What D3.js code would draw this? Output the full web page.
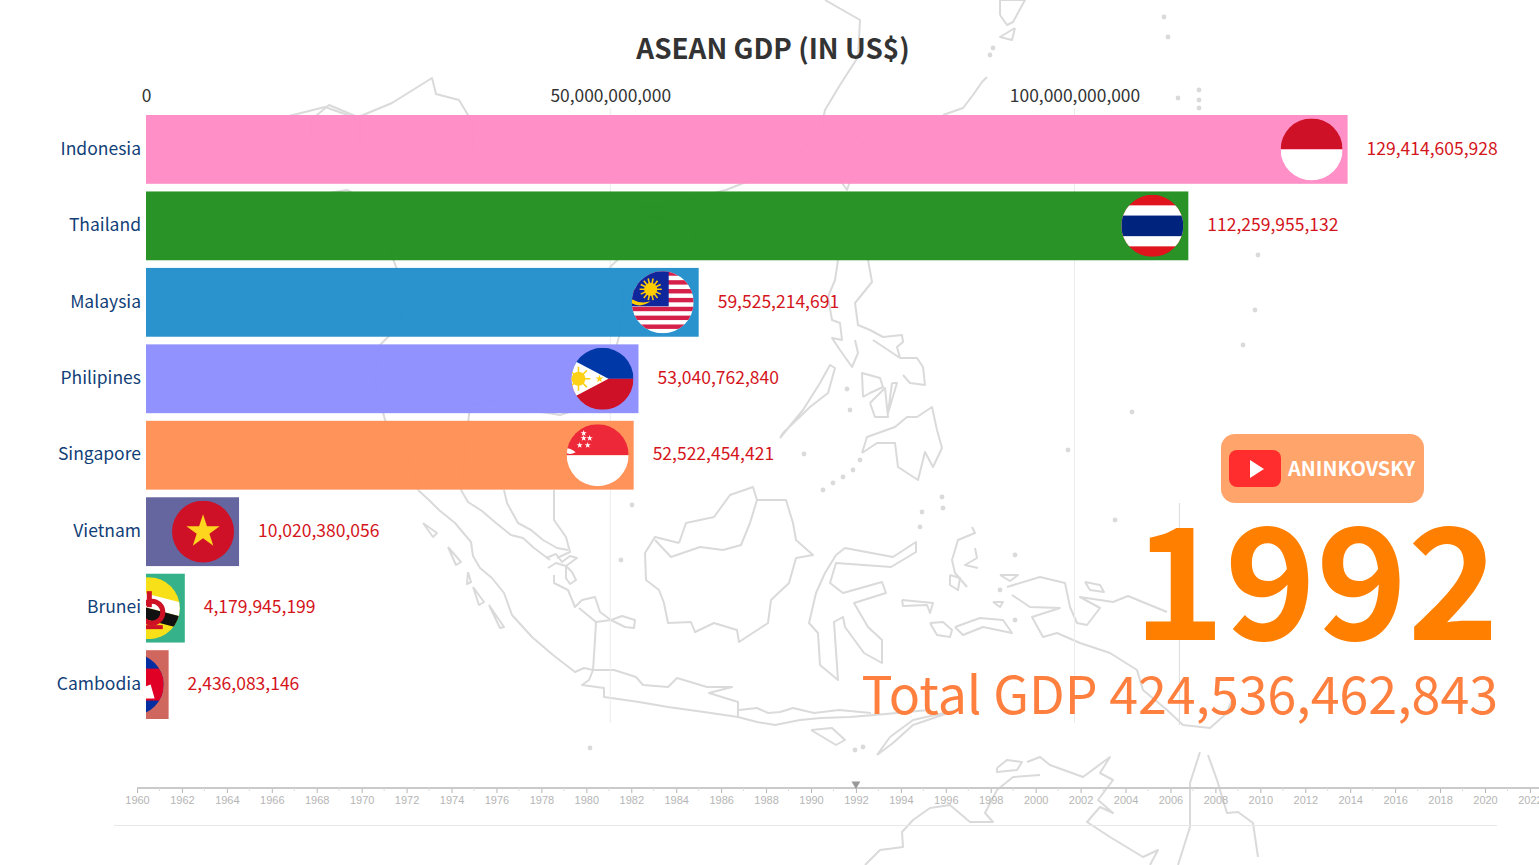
<!DOCTYPE html>
<html>
<head>
<meta charset="utf-8">
<title>ASEAN GDP</title>
<script src="https://cdn.jsdelivr.net/npm/d3@7"></script>
<style>
  html, body { margin: 0; padding: 0; background: #fff; overflow: hidden; }
  text { font-family: "Noto Sans CJK SC", "Noto Sans", sans-serif; }
  .years text { font-family: "Liberation Sans Narrow", "Liberation Sans", sans-serif; }
</style>
</head>
<body>
<svg id="chart" width="1539" height="865"></svg>
<script>
// ------------ data ------------
var countries = ['Indonesia', 'Thailand', 'Malaysia', 'Philipines', 'Singapore', 'Vietnam', 'Brunei', 'Cambodia'];
var gdp = [129414605928, 112259955132, 59525214691, 53040762840, 52522454421, 10020380056, 4179945199, 2436083146];
var barColors = ['#ff8cc5', '#228f21', '#238fcc', '#8e8eff', '#ff9054', '#60609c', '#30b087', '#ce625a'];
var gdpTicks = [0, 50e9, 100e9];
var fadingTicks = [111.3e9]; // gridline still fading out in this frame
var yearTicks = d3.range(1960, 2023, 2);
var minorYears = d3.range(1961, 2022, 2);
var currentYear = 1992;
var totalGdp = 424536462843;

// traced outline of the background map, in picture pixels
var mapOutlines = [
  [[289,116],[325,107],[356,118],[392,103],[432,78],[436,94],[459,100],[474,125],[472,152]],
  [[311,120],[329,105],[360,118],[360,143],[325,145],[311,134],[311,120]],
  [[289,200],[347,190],[360,197],[383,233],[400,277],[409,300],[395,330],[380,345],[375,380],[385,420],[410,460],[418,490]],
  [[825,0],[860,20],[858,57],[840,85],[825,110],[820,133],[784,167],[726,190],[659,207],[637,207],[650,217],[664,217],[639,240],[610,267],[624,293],[620,333],[610,370],[590,405],[560,415],[530,410],[500,400],[470,405],[461,490]],
  [[856,135],[863,143],[847,190],[831,167],[856,135]],
  [[677,227],[690,222],[695,240],[680,250],[668,240],[677,227]],
  [[418,490],[429,500],[439,510],[455,523],[471,542],[473,556],[480,568],[492,578],[504,593],[512,615],[532,637],[553,655],[575,672],[584,668],[593,670]],
  [[461,490],[468,502],[482,511],[496,523],[511,535],[523,538],[534,548],[550,560]],
  [[504,490],[507,503],[518,523],[531,530],[543,540],[557,548],[568,550]],
  [[554,490],[554,520],[566,537],[570,552],[557,558]],
  [[546,558],[556,554],[562,562],[570,556],[577,558],[566,566],[556,563],[548,568]],
  [[566,566],[572,572],[576,580],[570,584],[566,578],[566,566]],
  [[554,575],[554,583],[568,590],[575,607],[582,600],[595,597],[600,612],[611,620],[596,622],[579,608]],
  [[611,620],[622,616],[635,620],[634,628],[625,627],[611,620]],
  [[596,622],[595,640],[593,670]],
  [[593,670],[614,670],[636,677],[643,685],[668,687],[677,678],[707,687],[732,687],[709,693],[738,702],[738,717],[704,712],[668,707],[639,702],[604,697],[604,688],[582,685],[589,680],[593,670]],
  [[738,717],[757,722],[775,725],[800,720],[821,718],[850,717],[875,715],[929,710]],
  [[739,710],[757,708],[768,713],[780,712],[793,708],[814,713],[839,710],[871,713]],
  [[877,755],[890,737],[913,720],[957,710],[913,725],[893,743],[877,755]],
  [[811,730],[832,728],[845,740],[836,745],[811,730]],
  [[679,543],[686,523],[714,517],[730,495],[753,487],[757,500],[786,500],[793,523],[796,540],[813,555],[796,558],[789,583],[771,600],[768,623],[739,642],[737,630],[714,623],[695,632],[691,622],[668,623],[664,603],[659,590],[646,580],[645,553],[655,537],[679,543]],
  [[655,540],[671,557],[700,547],[723,550],[741,545],[750,523],[757,500]],
  [[836,555],[845,548],[893,557],[916,542],[916,552],[891,567],[836,563],[830,583],[843,593],[882,582],[886,593],[854,603],[868,627],[882,640],[882,663],[864,653],[845,627],[843,617],[834,622],[838,680],[820,665],[818,633],[809,623],[816,593],[825,573],[836,555]],
  [[423,523],[437,533],[433,537],[423,523]],
  [[448,547],[461,562],[456,565],[448,547]],
  [[468,572],[471,582],[467,584],[468,572]],
  [[473,587],[484,602],[479,605],[473,587]],
  [[489,605],[504,627],[500,628],[489,605]],
  [[838,260],[835,280],[828,297],[832,320],[840,323],[842,340],[832,338],[840,350],[852,367],[858,353],[855,340]],
  [[868,260],[872,282],[855,303],[858,325],[870,330],[883,337],[902,335],[903,342],[897,347],[900,358],[873,340]],
  [[900,358],[917,358],[923,367],[925,385],[910,383],[903,375]],
  [[863,397],[862,373],[880,378],[883,387],[870,393],[863,397]],
  [[870,403],[885,388],[888,417],[875,417],[870,403]],
  [[892,383],[897,383],[888,413],[892,383]],
  [[862,453],[867,437],[895,427],[907,417],[917,417],[932,407],[937,430],[942,448],[933,467],[925,452],[918,480],[898,467],[895,443],[877,443],[862,453]],
  [[780,438],[803,410],[820,383],[830,365],[835,368],[828,393],[810,407],[783,433],[780,438]],
  [[972,527],[975,533],[958,540],[952,560],[955,573],[967,587]],
  [[975,548],[977,558],[965,565],[978,568]],
  [[1007,587],[1040,577],[1065,583],[1070,607],[1077,623],[1087,625],[1100,608],[1080,597],[1113,602],[1128,596],[1167,612]],
  [[1012,595],[1030,607],[1060,608],[1032,617],[1043,637],[1057,633],[1080,643],[1110,653],[1137,670],[1143,690],[1167,710],[1183,725],[1210,728],[1227,713],[1233,697]],
  [[930,623],[943,622],[952,630],[950,637],[937,635],[930,623]],
  [[955,627],[980,618],[1003,620],[1012,633],[983,627],[963,635],[955,627]],
  [[902,600],[933,603],[930,613],[927,605],[903,606],[902,600]],
  [[1000,575],[1018,575],[1010,581],[1000,575]],
  [[993,602],[1003,602],[1000,607],[993,602]],
  [[1085,582],[1100,585],[1104,592],[1090,590],[1085,582]],
  [[950,575],[960,578],[958,590],[950,585],[950,575]],
  [[997,768],[1007,760],[1022,762],[1017,770],[997,772],[997,768]],
  [[1027,762],[1040,757],[1050,765],[1083,777],[1110,757],[1100,773],[1113,780],[1098,800],[1113,813],[1100,807],[1087,822],[1110,837],[1143,857],[1158,850],[1150,865]],
  [[1040,775],[1013,777],[997,790],[985,813],[993,822],[970,822],[950,805],[930,808],[913,820],[902,832],[903,847],[880,850],[865,865]],
  [[1200,752],[1190,783],[1190,827],[1178,865]],
  [[1208,755],[1217,780],[1227,813],[1238,812],[1253,823],[1258,857]],
  [[1000,15],[1000,0],[1025,0],[1013,22],[1007,25],[1000,15]],
  [[1015,28],[1012,40],[1000,37],[1015,28]],
  [[987,77],[982,82],[973,95],[963,108],[943,115]]
];
var mapDots = [[847,389],[850,410],[804,454],[823,490],[833,483],[843,477],[853,470],[860,460],[942,497],[943,508],[922,512],[920,527],[621,560],[632,505],[590,748],[1164,17],[1168,37],[1199,90],[1199,100],[1199,108],[1178,98],[993,48],[990,55],[855,750],[863,747],[1243,345],[1255,310],[1258,255],[1000,590],[1015,620],[1132,412],[1068,450],[1115,520],[1015,555]];

// ------------ setup ------------
var svg = d3.select('#chart');

var x = d3.scaleLinear().domain([0, 100e9]).range([146, 1074.5]);
var y = d3.scaleBand().domain(countries).range([115, 719]).paddingInner(0.1);
var years = d3.scaleLinear().domain([1960, 2020]).range([137, 1485]);
var fmt = d3.format(',');

// background map
var mapLine = d3.line();
var map = svg.append('g').attr('fill', 'none').attr('stroke', '#dadada').attr('stroke-width', 2).attr('stroke-linejoin', 'round');
map.selectAll('path').data(mapOutlines).join('path').attr('d', mapLine);
svg.append('g').attr('fill', '#dadada').selectAll('circle').data(mapDots).join('circle')
  .attr('cx', function(d) { return d[0]; })
  .attr('cy', function(d) { return d[1]; })
  .attr('r', 2.4);

// gridlines
svg.append('g').selectAll('line').data(gdpTicks.slice(1)).join('line')
  .attr('x1', x).attr('x2', x).attr('y1', 108).attr('y2', 723)
  .attr('stroke', '#ececec');
svg.append('g').selectAll('line').data(fadingTicks).join('line')
  .attr('x1', x).attr('x2', x).attr('y1', 503).attr('y2', 725)
  .attr('stroke', '#dcdcdc');

// title
svg.append('text').attr('x', 773).attr('y', 59).attr('text-anchor', 'middle')
  .attr('font-size', 27.8).attr('font-weight', 700).attr('fill', '#333')
  .text('ASEAN GDP (IN US$)');

// value axis
var axis = svg.append('g').attr('transform', 'translate(0,102)')
  .call(d3.axisTop(x).tickValues(gdpTicks).tickFormat(fmt).tickSize(0).tickPadding(0));
axis.select('.domain').remove();
axis.selectAll('text').attr('font-size', 17.4).attr('fill', '#333')
  .style('font-family', '"Noto Sans CJK SC", "Noto Sans", sans-serif');

// bars
svg.append('g').selectAll('rect').data(countries).join('rect')
  .attr('x', x(0))
  .attr('y', function(d) { return y(d); })
  .attr('width', function(d, i) { return x(gdp[i]) - x(0); })
  .attr('height', y.bandwidth())
  .attr('fill', function(d, i) { return barColors[i]; })
  .attr('opacity', 0.97);

// names and values
svg.append('g').selectAll('text').data(countries).join('text')
  .attr('x', 141)
  .attr('y', function(d) { return y(d) + y.bandwidth() / 2; })
  .attr('dy', '0.3em')
  .attr('text-anchor', 'end')
  .attr('font-size', 17.5)
  .attr('fill', '#123f78')
  .text(function(d) { return d; });
svg.append('g').selectAll('text').data(countries).join('text')
  .attr('x', function(d, i) { return x(gdp[i]) + 19; })
  .attr('y', function(d) { return y(d) + y.bandwidth() / 2; })
  .attr('dy', '0.3em')
  .attr('font-size', 17.5)
  .attr('fill', '#d4151c')
  .text(function(d, i) { return fmt(gdp[i]); });

// ------------ flags, r = 31 circle around 0,0 ------------
var defs = svg.append('defs');
defs.append('clipPath').attr('id', 'flag-circle').append('circle').attr('r', 31);
defs.append('clipPath').attr('id', 'plot-left').append('rect')
  .attr('x', x(0)).attr('y', 0).attr('width', 1400).attr('height', 865);

function box(g, x0, y0, w, h, fill) {
  g.append('rect').attr('x', x0).attr('y', y0).attr('width', w).attr('height', h).attr('fill', fill);
}
function poly(g, pts, fill) {
  g.append('polygon').attr('points', pts).attr('fill', fill);
}
function sun(g, cx, cy, r, rays, fill) {
  d3.range(rays).forEach(function(i) {
    var a = i * 2 * Math.PI / rays;
    g.append('line').attr('x1', cx).attr('y1', cy)
      .attr('x2', cx + Math.cos(a) * r * 1.7).attr('y2', cy + Math.sin(a) * r * 1.7)
      .attr('stroke', fill).attr('stroke-width', 1.6);
  });
  g.append('circle').attr('cx', cx).attr('cy', cy).attr('r', r).attr('fill', fill);
}
function star(g, cx, cy, size, fill) {
  g.append('path').attr('d', d3.symbol(d3.symbolStar).size(size)())
    .attr('transform', 'translate(' + cx + ',' + cy + ')').attr('fill', fill);
}

var flags = {
  Indonesia: function(g) {
    box(g, -31, -31, 62, 31, '#ce1126');
    box(g, -31, 0, 62, 31, '#fff');
  },
  Thailand: function(g) {
    box(g, -31, -31, 62, 62, '#e0141c');
    box(g, -31, -20.5, 62, 41, '#fff');
    box(g, -31, -10.3, 62, 20.6, '#00247d');
  },
  Malaysia: function(g) {
    box(g, -31, -31, 62, 62, '#fff');
    d3.range(7).forEach(function(i) { box(g, -31, -31 + i * 8.86, 62, 4.43, '#d5204a'); });
    box(g, -31, -31, 37, 35, '#10269b');
    sun(g, -12, -13, 6.5, 14, '#ffcc00');
    g.append('path').attr('d', 'M-31,-3 Q-22,2 -12,-1 Q-22,6 -31,1 Z').attr('fill', '#ffcc00');
  },
  Philipines: function(g) {
    box(g, -31, -31, 62, 31, '#0038a8');
    box(g, -31, 0, 62, 31, '#ce1126');
    poly(g, '-34,-21 6,0 -34,21', '#fff');
    sun(g, -24, 0, 7, 8, '#fcd116');
    star(g, -3, 0, 20, '#fcd116');
  },
  Singapore: function(g) {
    box(g, -31, -31, 62, 31, '#ed2939');
    box(g, -31, 0, 62, 31, '#fff');
    [[-14, -17], [-8, -17], [-18, -10], [-10, -10], [-14, -22]].forEach(function(p) { star(g, p[0], p[1], 12, '#fff'); });
    g.append('path').attr('d', 'M-31,-2 Q-27,0 -22,-3 Q-27,-7 -31,-7 Z').attr('fill', '#fff');
  },
  Vietnam: function(g) {
    box(g, -31, -31, 62, 62, '#ce1126');
    star(g, 0, 0, 344, '#fdd51f');
  },
  Brunei: function(g) {
    box(g, -31, -31, 62, 62, '#f7e017');
    poly(g, '-31,-22 31,-6 31,8 -31,-8', '#fff');
    poly(g, '-31,-8 31,8 31,20 -31,4', '#111');
    g.append('circle').attr('cx', 3).attr('cy', 4).attr('r', 11).attr('fill', 'none').attr('stroke', '#cf1126').attr('stroke-width', 5);
    box(g, -2, -17, 5, 16, '#cf1126');
    box(g, -4, 17, 18, 4, '#cf1126');
  },
  Cambodia: function(g) {
    box(g, -31, -31, 62, 62, '#032ea1');
    box(g, -31, -16, 62, 32, '#e00025');
    poly(g, '-22,14 -18,0 -12,2 -8,-10 0,-14 8,-10 12,2 18,0 22,14', '#fff');
  }
};

var flagLayer = svg.append('g').attr('clip-path', 'url(#plot-left)');
countries.forEach(function(name, i) {
  var g = flagLayer.append('g')
    .attr('transform', 'translate(' + (x(gdp[i]) - 36) + ',' + (y(name) + y.bandwidth() / 2) + ')')
    .append('g').attr('clip-path', 'url(#flag-circle)');
  flags[name](g);
});

// ------------ channel badge ------------
var badge = svg.append('g');
badge.append('rect').attr('x', 1221).attr('y', 434).attr('width', 203).attr('height', 69).attr('rx', 14).attr('fill', '#ffa56b');
badge.append('rect').attr('x', 1229).attr('y', 450).attr('width', 52).attr('height', 37).attr('rx', 8).attr('fill', '#ff2d2d');
badge.append('polygon').attr('points', '1250,460 1264,469 1250,478').attr('fill', '#fff');
badge.append('text').attr('x', 1288).attr('y', 476).attr('font-size', 20).attr('font-weight', 700).attr('fill', '#fff').text('ANINKOVSKY');

// year and total
svg.append('text').attr('x', 1499).attr('y', 640).attr('text-anchor', 'end')
  .attr('font-size', 155).attr('font-weight', 700).attr('fill', '#ff8000')
  .text(currentYear);
svg.append('text').attr('x', 1498).attr('y', 714).attr('text-anchor', 'end')
  .attr('font-size', 51.9).attr('fill', '#ff7f3f')
  .text('Total GDP ' + fmt(totalGdp));

// ------------ timeline ------------
var timeline = svg.append('g').attr('class', 'years').attr('transform', 'translate(0,788)')
  .call(d3.axisBottom(years).tickValues(yearTicks).tickFormat(d3.format('d')).tickSize(5).tickPadding(3));
timeline.select('.domain').remove();
timeline.selectAll('line').attr('stroke', '#b5b5b5');
timeline.selectAll('text').attr('font-size', 11).attr('fill', '#b5b5b5');
timeline.append('line').attr('x1', years(1960)).attr('x2', 1539).attr('stroke', '#cacaca').attr('stroke-width', 2);
timeline.append('g').selectAll('line').data(minorYears).join('line')
  .attr('x1', years).attr('x2', years).attr('y1', 0).attr('y2', 3).attr('stroke', '#dcdcdc');

svg.append('path').attr('d', d3.symbol(d3.symbolTriangle).size(34)())
  .attr('transform', 'translate(' + years(currentYear) + ',784) rotate(180)')
  .attr('fill', '#999');
svg.append('line').attr('x1', 114).attr('x2', 1497).attr('y1', 825.5).attr('y2', 825.5).attr('stroke', '#e8e8e8');
</script>
</body>
</html>
